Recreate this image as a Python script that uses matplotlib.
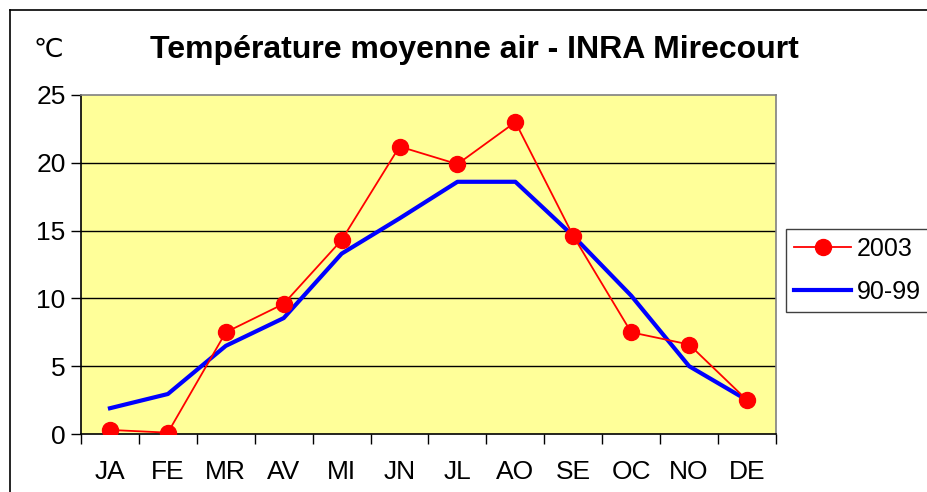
import matplotlib
matplotlib.use("Agg")
import matplotlib.pyplot as plt
from matplotlib.lines import Line2D
import numpy as np

plt.rcParams['font.family'] = ['Liberation Sans', 'DejaVu Sans']

months = ["JA", "FE", "MR", "AV", "MI", "JN", "JL", "AO", "SE", "OC", "NO", "DE"]
t2003 = [0.3, 0.1, 7.5, 9.6, 14.3, 21.2, 19.9, 23.0, 14.6, 7.5, 6.6, 2.5]
t9099 = [1.9, 2.95, 6.5, 8.55, 13.3, 15.9, 18.6, 18.6, 14.6, 10.2, 5.0, 2.5]
yticks = [0, 5, 10, 15, 20, 25]

W, H = 928, 492
fig = plt.figure(figsize=(W/100, H/100), dpi=100)
ax = fig.add_axes([81/W, 1-434/H, (776-81)/W, (434-95)/H])
ax.set_facecolor("#FFFF99")

x = np.arange(len(months))
ax.plot(x, t2003, color="#FF0000", lw=1.3, marker="o", ms=11.5,
        markeredgecolor="#FF0000", label="2003", zorder=4)
ax.plot(x, t9099, color="#0000FF", lw=3, label="90-99", zorder=3)

ax.set_xlim(-0.5, len(months)-0.5)
ax.set_ylim(0, 25)
ax.set_yticks(yticks)
ax.set_yticklabels([str(v) for v in yticks], fontsize=19)
for v in yticks[1:-1]:
    ax.axhline(v, color="black", lw=1, zorder=1)

ax.set_xticks(x)
ax.set_xticklabels(months, fontsize=19)
ax.set_xticks(np.arange(-0.5, len(months), 1), minor=True)
ax.tick_params(axis="x", which="major", length=0, pad=19)
ax.tick_params(axis="x", which="minor", length=7, width=1, direction="out")
ax.tick_params(axis="y", length=7, width=1, direction="out", pad=4)

for s in ["top", "right"]:
    ax.spines[s].set_color("#808080")
    ax.spines[s].set_linewidth(1.2)
for s in ["left", "bottom"]:
    ax.spines[s].set_color("black")
    ax.spines[s].set_linewidth(1.2)

fig.text(474/W, 1-50/H, "Température moyenne air - INRA Mirecourt",
         fontsize=23, fontweight="bold", ha="center", va="center")
fig.text(48/W, 1-50/H, "\u2103", fontsize=19, ha="center", va="center")

leg = fig.legend(loc="upper left", bbox_to_anchor=(786/W, 1-229/H),
                 borderaxespad=0, fancybox=False, fontsize=18,
                 edgecolor="#404040", framealpha=1, handlelength=2.3,
                 borderpad=0.32, labelspacing=0.75, handletextpad=0.22)
leg.get_frame().set_linewidth(1)

fig.add_artist(Line2D([10/W, 10/W], [0, 1-10/H], color="black", lw=1.2, transform=fig.transFigure))
fig.add_artist(Line2D([10/W, 1], [1-10/H, 1-10/H], color="black", lw=1.2, transform=fig.transFigure))

fig.savefig("out.png", dpi=100, facecolor="white")
